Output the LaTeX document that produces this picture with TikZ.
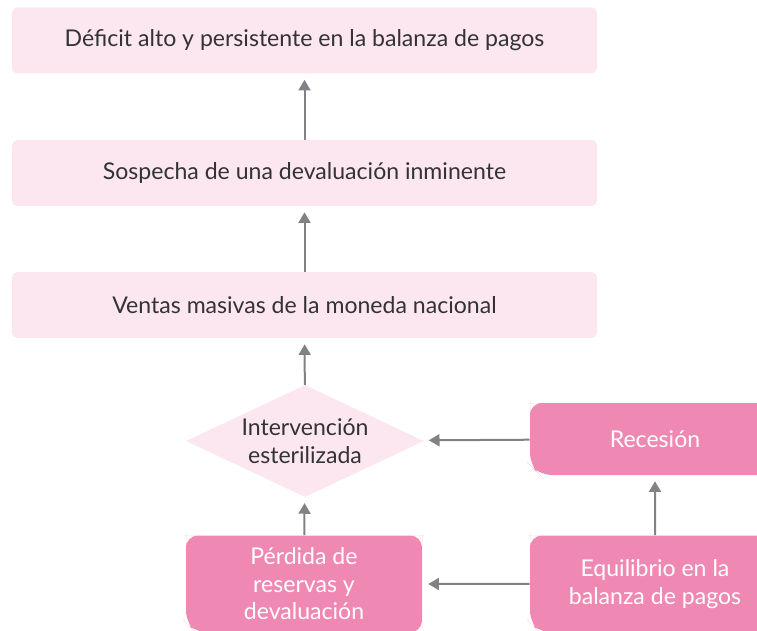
\documentclass[tikz,border=0pt]{standalone}
\usepackage{fontspec}
\setmainfont{Lato}
\usetikzlibrary{shapes.geometric,shapes.misc,arrows.meta}
\definecolor{rosaclaro}{HTML}{FCE6F0}
\definecolor{rosa}{HTML}{F088B4}
\definecolor{gris}{HTML}{808285}
\definecolor{texto}{HTML}{333333}
\tikzset{
  caja/.style={rectangle, fill=rosaclaro, rounded corners=4pt, text=texto,
    minimum width=438.75pt, minimum height=49.5pt,
    font=\fontsize{17.3}{20.6}\selectfont},
  rombo/.style={diamond, fill=rosaclaro, aspect=2.125, inner sep=0pt, text=texto,
    minimum width=178.5pt, minimum height=84pt, align=center,
    font=\fontsize{17.3}{20.6}\selectfont},
  bloque/.style={chamfered rectangle, chamfered rectangle corners=south west,
    chamfered rectangle xsep=4pt, fill=rosa, rounded corners=9pt, text=white,
    minimum width=187.5pt, align=center, font=\fontsize{17.3}{20.6}\selectfont},
  flecha/.style={draw=gris, line width=1.5pt, -{Triangle[length=8pt,width=9pt]},
    shorten >=4.5pt}
}
\begin{document}
\begin{tikzpicture}[x=0.75pt, y=-0.75pt]
        \useasboundingbox (0,0) rectangle (757,631);
        \clip (0,0) rectangle (757,631);

        % Cadena principal
        \node[caja] (deficit) at (304.5,40.5) {Déficit alto y persistente en la balanza de pagos};
        \node[caja] (sospecha) at (304.5,173) {Sospecha de una devaluación inminente};
        \node[caja] (ventas) at (304.5,305) {Ventas masivas de la moneda nacional};
        \node[rombo] (interv) at (305,441) {Intervención\\esterilizada};

        % Bloques oscuros
        \node[bloque, minimum width=177pt, minimum height=72.75pt] (perdida) at (304,584) {Pérdida de\\reservas y\\devaluación};
        \node[bloque, minimum height=54pt] (recesion) at (655,439) {Recesión};
        \node[bloque, minimum height=72.75pt] (equilibrio) at (655,584) {Equilibrio en la\\balanza de pagos};

        % Flechas
        \draw[flecha] (sospecha) -- (deficit);
        \draw[flecha] (ventas) -- (sospecha);
        \draw[flecha] (interv) -- (ventas);
        \draw[flecha] (perdida) -- (interv);
        \draw[flecha] (recesion) -- (interv);
        \draw[flecha] (equilibrio) -- (perdida);
        \draw[flecha] (equilibrio) -- (recesion);

\end{tikzpicture}
\end{document}
